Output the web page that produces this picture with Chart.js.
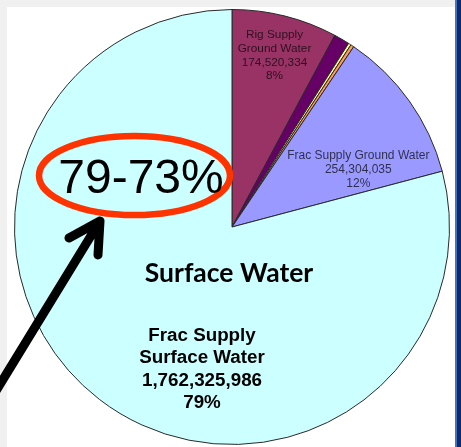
<!DOCTYPE html>
<html>
<head>
<meta charset="utf-8">
<script src="https://cdn.jsdelivr.net/npm/chart.js@4"></script>
<style>
  html, body { margin: 0; padding: 0; background: #f0f0f0; }
  #wrap { width: 461px; height: 447px; }
</style>
</head>
<body>
<div id="wrap"><canvas id="myChart" width="461" height="447"></canvas></div>
<script>
// Water use by source (gallons)
const sources = ['Rig Supply Ground Water', 'Rig Supply Surface Water', 'Other Ground Water', 'Other Surface Water', 'Frac Supply Ground Water', 'Frac Supply Surface Water']
const gallons = [174520334, 26000000, 4500000, 5500000, 254304035, 1762325986]
const pctLabels = ['8%', '', '', '', '12%', '79%']
const sliceColors = ['#993366', '#660066', '#ffff99', '#ff9955', '#9999ff', '#ccffff']

const heading = 'Surface Water'
const callout = '79-73%'

// Page frame: grey margin top/left, blue rule on the right
const framePlugin = {
    id: 'frame',
    beforeDraw(chart) {
        const c = chart.ctx
        c.save()
        c.fillStyle = '#f0f0f0'
        c.fillRect(0, 0, 461, 447)
        c.fillStyle = '#ffffff'
        c.fillRect(7, 7, 448, 440)
        c.fillStyle = '#4472c4'
        c.fillRect(455, 0, 2, 447)
        c.fillStyle = '#0d2b6b'
        c.fillRect(457, 0, 4, 447)
        c.restore()
    }
}

// Data labels, offsets from the pie centre to the first baseline
const labelSpots = {
    0: { dx: 42.5, dy: -188.7, lh: 13.7, font: '11.8px "Liberation Sans", Arial', color: 'rgba(0,0,0,0.7)', wrap: true },
    4: { dx: 126.3, dy: -67.7, lh: 13.8, font: '12px "Liberation Sans", Arial', color: 'rgba(0,0,0,0.7)', wrap: false },
    5: { dx: -30, dy: 114, lh: 22.4, font: 'bold 18.8px "Liberation Sans", Arial', color: '#000', wrap: true }
}

const overlayPlugin = {
    id: 'overlay',
    afterDraw(chart) {
        const c = chart.ctx
        const arcs = chart.getDatasetMeta(0).data
        const cx = arcs[0].x, cy = arcs[0].y

        c.save()
        c.textAlign = 'center'
        c.textBaseline = 'alphabetic'
        Object.keys(labelSpots).forEach(k => {
            const i = Number(k)
            const s = labelSpots[k]
            const name = s.wrap ? sources[i].replace('Supply ', 'Supply\n').split('\n') : [sources[i]]
            const lines = name.concat([gallons[i].toLocaleString('en-US'), pctLabels[i]])
            c.font = s.font
            c.fillStyle = s.color
            lines.forEach((t, j) => c.fillText(t, cx + s.dx, cy + s.dy + j * s.lh))
        })

        // section heading
        c.font = 'bold 26.5px Lato, "Noto Sans", sans-serif'
        c.fillStyle = '#000'
        c.fillText(heading, cx - 3, cy + 55)

        // red ring around the callout
        c.beginPath()
        c.ellipse(cx - 97.5, cy - 51.5, 95.5, 39.5, 0, 0, Math.PI * 2)
        c.lineWidth = 6.5
        c.strokeStyle = '#ff3300'
        c.stroke()

        c.font = '48px "Liberation Sans", Arial'
        c.fillStyle = '#000'
        c.fillText(callout, cx - 91, cy - 34.5)

        // arrow pointing at the ring
        c.lineWidth = 9
        c.lineCap = 'round'
        c.lineJoin = 'round'
        c.strokeStyle = '#000'
        c.beginPath()
        c.moveTo(-12, 404)
        c.lineTo(100, 221)
        c.moveTo(69, 238)
        c.lineTo(100, 221)
        c.lineTo(98, 255)
        c.stroke()
        c.restore()
    }
}

const data = {
    labels: sources,
    datasets: [{
        data: gallons,
        backgroundColor: sliceColors,
        borderColor: '#2a2a2a',
        borderWidth: 1,
        hoverOffset: 0,
        offset: 0
    }]
}

const config = {
    type: 'pie',
    data: data,
    options: {
        responsive: false,
        animation: false,
        devicePixelRatio: 1,
        layout: { padding: { left: 14, right: 11, top: 9, bottom: 2 } },
        plugins: {
            legend: { display: false },
            tooltip: { enabled: false }
        }
    },
    plugins: [framePlugin, overlayPlugin]
}

const ctx = document.getElementById('myChart').getContext('2d')
new Chart(ctx, config)
</script>
</body>
</html>
